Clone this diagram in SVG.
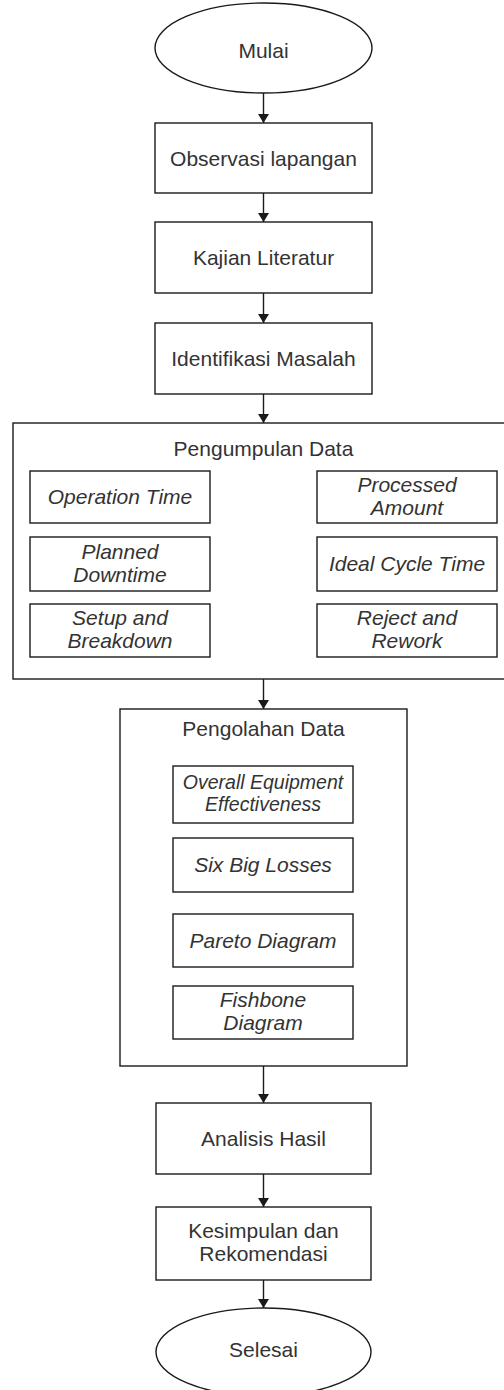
<svg xmlns="http://www.w3.org/2000/svg" width="504" height="1390" viewBox="0 0 504 1390">
<style>
.shape{fill:#fff;stroke:#1a1a1a;stroke-width:1.4}
.t{font-family:"Liberation Sans",Arial,sans-serif;font-size:21px;fill:#333;text-anchor:middle}
.i{font-style:italic}
.s{font-size:19.5px}
.conn{stroke:#1a1a1a;stroke-width:1.4;fill:none}
</style>
<defs>
<marker id="arr" viewBox="0 0 9 11" refX="9" refY="5.5" markerWidth="9" markerHeight="11" markerUnits="userSpaceOnUse" orient="auto">
<path d="M0,0 L9,5.5 L0,11 z" fill="#1a1a1a"/>
</marker>
</defs>
<rect x="0" y="0" width="504" height="1390" fill="#fff"/>

<g id="mulai"><ellipse class="shape" cx="263.5" cy="48" rx="108.5" ry="45"/><text class="t" x="263.5" y="58">Mulai</text></g>
<g id="observasi"><rect class="shape" x="155" y="123" width="217" height="70"/><text class="t" x="263.5" y="165.5">Observasi lapangan</text></g>
<g id="kajian"><rect class="shape" x="155" y="222" width="217" height="71"/><text class="t" x="263.5" y="265">Kajian Literatur</text></g>
<g id="identifikasi"><rect class="shape" x="155" y="323" width="217" height="71"/><text class="t" x="263.5" y="366">Identifikasi Masalah</text></g>

<g id="pengumpulan">
<rect class="shape" x="13" y="423" width="502" height="256"/>
<text class="t" x="263.5" y="456">Pengumpulan Data</text>
</g>
<g id="operation-time"><rect class="shape" x="30" y="471" width="180" height="52"/><text class="t i" x="120" y="504">Operation Time</text></g>
<g id="processed-amount"><rect class="shape" x="317" y="471" width="180" height="52"/><text class="t i" x="407" y="491.5">Processed</text><text class="t i" x="407" y="514.5">Amount</text></g>
<g id="planned-downtime"><rect class="shape" x="30" y="537" width="180" height="54"/><text class="t i" x="120" y="558.5">Planned</text><text class="t i" x="120" y="581.5">Downtime</text></g>
<g id="ideal-cycle-time"><rect class="shape" x="317" y="537" width="180" height="54"/><text class="t i" x="407" y="571">Ideal Cycle Time</text></g>
<g id="setup-breakdown"><rect class="shape" x="30" y="604" width="180" height="53"/><text class="t i" x="120" y="625">Setup and</text><text class="t i" x="120" y="648">Breakdown</text></g>
<g id="reject-rework"><rect class="shape" x="317" y="604" width="180" height="53"/><text class="t i" x="407" y="625">Reject and</text><text class="t i" x="407" y="648">Rework</text></g>

<g id="pengolahan">
<rect class="shape" x="120" y="709" width="287" height="357"/>
<text class="t" x="263.5" y="736">Pengolahan Data</text>
</g>
<g id="oee"><rect class="shape" x="173" y="766" width="180" height="57"/><text class="t i s" x="263" y="788.5">Overall Equipment</text><text class="t i s" x="263" y="810.5">Effectiveness</text></g>
<g id="six-big-losses"><rect class="shape" x="173" y="838" width="180" height="54"/><text class="t i" x="263" y="872">Six Big Losses</text></g>
<g id="pareto"><rect class="shape" x="173" y="914" width="180" height="53"/><text class="t i" x="263" y="948">Pareto Diagram</text></g>
<g id="fishbone"><rect class="shape" x="173" y="986" width="180" height="53"/><text class="t i" x="263" y="1007">Fishbone</text><text class="t i" x="263" y="1030">Diagram</text></g>

<g id="analisis"><rect class="shape" x="156" y="1103" width="215" height="71"/><text class="t" x="263.5" y="1146">Analisis Hasil</text></g>
<g id="kesimpulan"><rect class="shape" x="156" y="1207" width="215" height="73"/><text class="t" x="263.5" y="1238">Kesimpulan dan</text><text class="t" x="263.5" y="1261">Rekomendasi</text></g>
<g id="selesai"><ellipse class="shape" cx="263.5" cy="1352" rx="107.5" ry="44"/><text class="t" x="263.5" y="1357">Selesai</text></g>

<g id="connectors">
<line class="conn" x1="263.5" y1="93" x2="263.5" y2="123" marker-end="url(#arr)"/>
<line class="conn" x1="263.5" y1="193" x2="263.5" y2="222" marker-end="url(#arr)"/>
<line class="conn" x1="263.5" y1="293" x2="263.5" y2="323" marker-end="url(#arr)"/>
<line class="conn" x1="263.5" y1="394" x2="263.5" y2="423" marker-end="url(#arr)"/>
<line class="conn" x1="263.5" y1="679" x2="263.5" y2="709" marker-end="url(#arr)"/>
<line class="conn" x1="263.5" y1="1066" x2="263.5" y2="1103" marker-end="url(#arr)"/>
<line class="conn" x1="263.5" y1="1174" x2="263.5" y2="1207" marker-end="url(#arr)"/>
<line class="conn" x1="263.5" y1="1280" x2="263.5" y2="1308" marker-end="url(#arr)"/>
</g>
</svg>
